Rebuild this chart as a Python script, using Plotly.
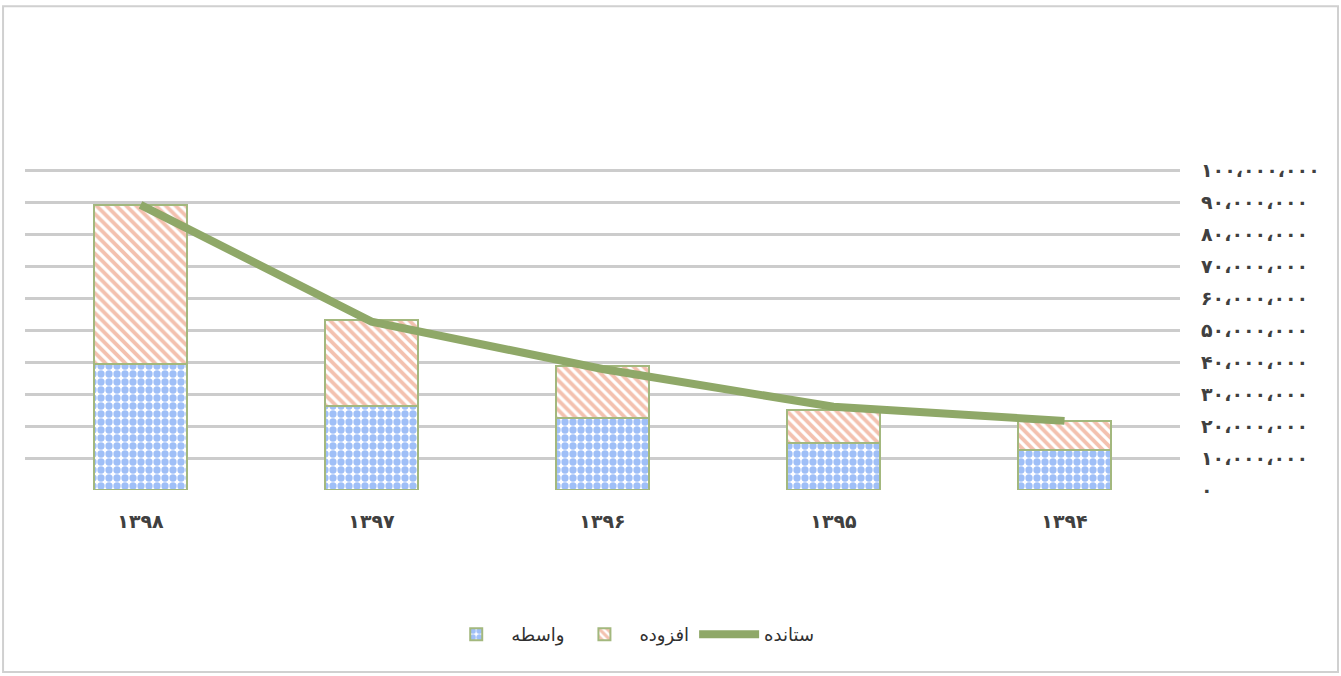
import plotly.graph_objects as go

years = ["۱۳۹۴", "۱۳۹۵", "۱۳۹۶", "۱۳۹۷", "۱۳۹۸"]
vaseteh = [12.5e6, 14.7e6, 22.5e6, 26.3e6, 39.4e6]     # واسطه
afzudeh = [9.1e6, 10.3e6, 16.3e6, 26.8e6, 49.7e6]      # افزوده
setandeh = [21.6e6, 26.0e6, 37.8e6, 52.6e6, 89.1e6]    # ستانده
tick_vals = [0, 1e7, 2e7, 3e7, 4e7, 5e7, 6e7, 7e7, 8e7, 9e7, 1e8]
tick_text = ["۰", "۱۰،۰۰۰،۰۰۰", "۲۰،۰۰۰،۰۰۰", "۳۰،۰۰۰،۰۰۰", "۴۰،۰۰۰،۰۰۰",
             "۵۰،۰۰۰،۰۰۰", "۶۰،۰۰۰،۰۰۰", "۷۰،۰۰۰،۰۰۰", "۸۰،۰۰۰،۰۰۰",
             "۹۰،۰۰۰،۰۰۰", "۱۰۰،۰۰۰،۰۰۰"]

green = "#8fa868"
fig = go.Figure()
fig.add_trace(go.Bar(
    x=years, y=vaseteh, name="واسطه",
    marker=dict(color="white", line=dict(color="#a3b87e", width=2),
                pattern=dict(shape=".", fgcolor="#3f7ff0", bgcolor="white",
                             size=8, solidity=0.65)),
))
fig.add_trace(go.Bar(
    x=years, y=afzudeh, name="افزوده",
    marker=dict(color="white", line=dict(color="#a3b87e", width=2),
                pattern=dict(shape="\\", fgcolor="#e8845f", bgcolor="white",
                             size=7, solidity=0.55)),
))
fig.add_trace(go.Scatter(
    x=years, y=setandeh, name="ستانده", mode="lines",
    line=dict(color=green, width=8),
))

# plot area: x 25..1180 px, y 0 -> 490 px, 1e8 -> 170 px (range top 1.05e8 -> 154 px)
fig.update_layout(
    width=1341, height=676,
    barmode="stack", bargap=0.6,
    plot_bgcolor="white", paper_bgcolor="white",
    margin=dict(l=25, r=161, t=154, b=186),
    font=dict(family="DejaVu Sans, Noto Sans", color="#404040"),
    showlegend=True,
    legend=dict(orientation="h", x=0.524, xanchor="center", y=-0.43,
                yanchor="middle", traceorder="normal",
                font=dict(size=18, color="#303030"),
                itemwidth=60),
    xaxis=dict(autorange="reversed", showgrid=False, showline=False,
               ticks="", ticklabelstandoff=18,
               tickfont=dict(size=19, color="#404040", weight="bold")),
    yaxis=dict(side="right", range=[0, 1.05e8], tickvals=tick_vals,
               ticktext=tick_text, showgrid=True, gridcolor="#cccccc",
               gridwidth=2.5, zeroline=False, showline=False,
               tickfont=dict(size=19, color="#404040", weight="bold"),
               ticklabelstandoff=20),
    shapes=[dict(type="rect", xref="paper", yref="paper",
                 x0=-0.019, x1=1.1368, y0=-0.542, y1=1.44,
                 line=dict(color="#d0d0d0", width=2), layer="below")],
)

fig.write_html("out.html",
               config={"displayModeBar": False},
               post_script="document.body.style.margin='0';"
                           "document.body.style.overflow='hidden';")
